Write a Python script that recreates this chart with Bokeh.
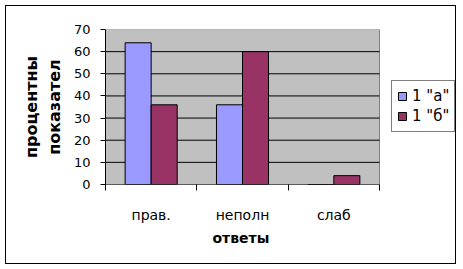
from bokeh.plotting import figure
from bokeh.models import (ColumnDataSource, FixedTicker, Legend, LegendItem,
                          Range1d, Title)
from bokeh.embed import file_html
from bokeh.resources import INLINE

categories = ["прав.", "неполн", "слаб"]
series_names = ['1 "а"', '1 "б"']
series_a = [64, 36, 0]
series_b = [36, 60, 4]
y_ticks = [0, 10, 20, 30, 40, 50, 60, 70]
x_title = "ответы"
y_title = "процентны\nпоказател"

FONT = "DejaVu Sans"
n = len(categories)
idx = list(range(n))
bar_w = 0.285
src_a = ColumnDataSource(dict(x=[i + 0.5 - bar_w / 2 for i in idx], top=series_a))
src_b = ColumnDataSource(dict(x=[i + 0.5 + bar_w / 2 for i in idx], top=series_b))

# layout (pixels)
W, H = 451, 259
LEFT, TOP, BOTTOM = 99, 23, 81
PLOT_W = 274                     # width of the grey plot area
FRAME_W = W - LEFT               # frame extends under the legend
x_max = n * FRAME_W / PLOT_W

p = figure(width=W, height=H, output_backend="svg", toolbar_location=None,
           x_range=Range1d(0, x_max), y_range=Range1d(y_ticks[0], y_ticks[-1]),
           min_border_left=LEFT, min_border_right=0, min_border_top=TOP,
           min_border_bottom=BOTTOM)
p.margin = (5, 0, 0, 5)
p.styles = {"border": "1px solid black"}
p.background_fill_color = "white"
p.border_fill_color = "white"
p.outline_line_color = None
p.xgrid.visible = False
p.ygrid.visible = False

# grey plot area, gridlines
p.quad(left=0, right=n, bottom=y_ticks[0], top=y_ticks[-1],
       fill_color="#C0C0C0", line_color="#808080", line_width=1)
p.segment(x0=[0] * (len(y_ticks) - 2), x1=[n] * (len(y_ticks) - 2),
          y0=y_ticks[1:-1], y1=y_ticks[1:-1], line_color="black", line_width=1)

ra = p.vbar(x="x", top="top", bottom=0, width=bar_w, source=src_a,
            fill_color="#9999FF", line_color="black", line_width=1)
rb = p.vbar(x="x", top="top", bottom=0, width=bar_w, source=src_b,
            fill_color="#993366", line_color="black", line_width=1)

# x axis line along the plot area only
p.segment(x0=[0], x1=[n], y0=[0], y1=[0], line_color="black", line_width=1)

xa = p.xaxis[0]
xa.ticker = FixedTicker(ticks=[i + 0.5 for i in idx], minor_ticks=list(range(n + 1)))
xa.major_label_overrides = {i + 0.5: c for i, c in zip(idx, categories)}
xa.major_tick_out = 0
xa.major_tick_in = 0
xa.minor_tick_out = 6
xa.minor_tick_in = 0
xa.minor_tick_line_color = "black"
xa.axis_line_color = None
xa.major_label_standoff = 16
xa.major_label_text_font = FONT
xa.major_label_text_font_size = "14px"
xa.major_label_text_color = "black"

p.add_layout(Title(text=x_title, align="left", offset=107, standoff=4,
                   text_font=FONT, text_font_size="14px", text_font_style="bold",
                   text_color="black"), "below")

ya = p.yaxis[0]
ya.ticker = FixedTicker(ticks=y_ticks, minor_ticks=[])
ya.major_tick_out = 5
ya.major_tick_in = 0
ya.major_tick_line_color = "black"
ya.axis_line_color = "black"
ya.major_label_standoff = 10
ya.major_label_text_font = FONT
ya.major_label_text_font_size = "13px"
ya.major_label_text_color = "black"
ya.axis_label = y_title
ya.axis_label_text_font = FONT
ya.axis_label_text_font_size = "16px"
ya.axis_label_text_font_style = "bold"
ya.axis_label_text_color = "black"
ya.axis_label_standoff = 7

legend = Legend(items=[LegendItem(label=series_names[0], renderers=[ra]),
                       LegendItem(label=series_names[1], renderers=[rb])],
                location=(286, 52), orientation="vertical")
legend.label_text_font = FONT
legend.label_text_font_size = "15px"
legend.label_text_color = "black"
legend.glyph_width = 10
legend.glyph_height = 10
legend.label_standoff = 5
legend.label_height = 20
legend.spacing = 0
legend.padding = 5
legend.margin = 0
legend.border_line_color = "black"
legend.border_line_width = 1
legend.background_fill_color = "white"
legend.background_fill_alpha = 1
p.add_layout(legend)

open("out.html", "w").write(file_html(p, INLINE))
